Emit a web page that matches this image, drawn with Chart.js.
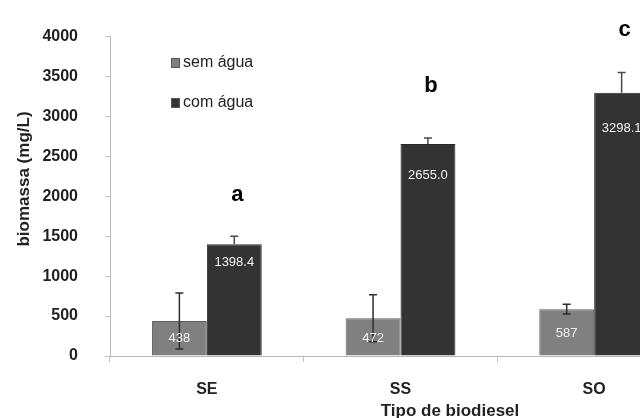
<!DOCTYPE html>
<html>
<head>
<meta charset="utf-8">
<script src="https://cdn.jsdelivr.net/npm/chart.js@4.4.1/dist/chart.umd.min.js"></script>
<style>
  html, body { margin: 0; padding: 0; background: #fff; overflow: hidden; width: 640px; height: 418px; }
  canvas { display: block; }
</style>
</head>
<body>
<canvas id="chart" width="700" height="418"></canvas>
<script>
'use strict';

const categories = ['SE', 'SS', 'SO'];
const semAgua = [438, 472, 587];
const comAgua = [1398.4, 2655.0, 3298.1];
const semAguaErr = [350, 295, 62];
const comAguaErr = [100, 75, 253];
const semAguaText = ['438', '472', '587'];
const comAguaText = ['1398.4', '2655.0', '3298.1'];
const letters = ['a', 'b', 'c'];
const letterValues = [2020, 3380, 4085];

const GRAY = '#808080';
const DARK = '#333333';
const TEXT = '#222222';

// error bars, value labels, letters, legend and axis titles
const extras = {
  id: 'extras',
  afterDatasetsDraw(chart) {
    const ctx = chart.ctx;
    const y = chart.scales.y;
    const errs = [semAguaErr, comAguaErr];
    const texts = [semAguaText, comAguaText];
    const drops = [[17, 20, 24], [18, 31, 36]];

    ctx.save();
    errs.forEach((err, i) => {
      const meta = chart.getDatasetMeta(i);
      const vals = chart.data.datasets[i].data;
      meta.data.forEach((bar, j) => {
        const top = y.getPixelForValue(vals[j] + err[j]);
        const bot = y.getPixelForValue(vals[j] - err[j]);
        ctx.strokeStyle = i === 0 ? '#2e2e2e' : '#4a4a4a';
        ctx.lineWidth = 1.5;
        ctx.beginPath();
        // the lower half disappears into the dark bars, so only draw it on the grey ones
        ctx.moveTo(bar.x, top); ctx.lineTo(bar.x, i === 0 ? bot : bar.y);
        ctx.moveTo(bar.x - 4, top); ctx.lineTo(bar.x + 4, top);
        if (i === 0) { ctx.moveTo(bar.x - 4, bot); ctx.lineTo(bar.x + 4, bot); }
        ctx.stroke();
      });
    });

    ctx.fillStyle = '#f2f2f2';
    ctx.font = '13px "Liberation Sans", Arial, sans-serif';
    ctx.textAlign = 'center';
    ctx.textBaseline = 'middle';
    texts.forEach((arr, i) => {
      chart.getDatasetMeta(i).data.forEach((bar, j) => {
        ctx.fillText(arr[j], bar.x, bar.y + drops[i][j]);
      });
    });

    ctx.fillStyle = '#000';
    ctx.font = 'bold 22px "Liberation Sans", Arial, sans-serif';
    chart.getDatasetMeta(1).data.forEach((bar, j) => {
      ctx.fillText(letters[j], bar.x + 3, y.getPixelForValue(letterValues[j]));
    });

    // legend
    ctx.font = '16px "Liberation Sans", Arial, sans-serif';
    ctx.textAlign = 'left';
    chart.data.datasets.forEach((ds, i) => {
      const ly = 63 + i * 40;
      ctx.fillStyle = ds.backgroundColor;
      ctx.fillRect(171, ly - 5, 9, 10);
      ctx.strokeStyle = '#555';
      ctx.lineWidth = 1;
      ctx.strokeRect(171.5, ly - 4.5, 8, 9);
      ctx.fillStyle = TEXT;
      ctx.fillText(ds.label, 183, ly);
    });

    // axis titles
    ctx.font = 'bold 17px "Liberation Sans", Arial, sans-serif';
    ctx.textAlign = 'center';
    ctx.fillStyle = TEXT;
    ctx.textBaseline = 'alphabetic';
    ctx.fillText('Tipo de biodiesel', 450, 416);
    ctx.save();
    ctx.translate(29, 179);
    ctx.rotate(-Math.PI / 2);
    ctx.fillText('biomassa (mg/L)', 0, 0);
    ctx.restore();
    ctx.restore();
  }
};

new Chart(document.getElementById('chart').getContext('2d'), {
  type: 'bar',
  data: {
    labels: categories,
    datasets: [
      { label: 'sem água', data: semAgua, backgroundColor: GRAY, borderColor: '#5e5e5e', borderWidth: 1 },
      { label: 'com água', data: comAgua, backgroundColor: DARK, borderColor: '#2a2a2a', borderWidth: 1 },
    ],
  },
  options: {
    responsive: false,
    animation: false,
    layout: { padding: { top: 35, right: 9, left: 0, bottom: 0 } },
    datasets: { bar: { categoryPercentage: 0.567, barPercentage: 1.0 } },
    plugins: { legend: { display: false }, tooltip: { enabled: false } },
    scales: {
      x: {
        afterFit: (s) => { s.height = 62; },
        grid: { display: true, drawOnChartArea: false, drawTicks: true, tickLength: 6, color: '#c4c4c4', offset: true },
        border: { display: true, color: '#b8b8b8' },
        ticks: { color: TEXT, padding: 18, font: { family: '"Liberation Sans", Arial, sans-serif', size: 16, weight: 'bold' } },
      },
      y: {
        min: 0,
        max: 4000,
        afterFit: (s) => { s.width = 110; },
        grid: { display: true, drawOnChartArea: false, drawTicks: true, tickLength: 5, color: '#c4c4c4' },
        border: { display: true, color: '#b8b8b8' },
        ticks: {
          stepSize: 500,
          color: TEXT,
          padding: 27,
          callback: (v) => String(v),
          font: { family: '"Liberation Sans", Arial, sans-serif', size: 16, weight: 'bold' },
        },
      },
    },
  },
  plugins: [extras],
});
</script>
</body>
</html>
